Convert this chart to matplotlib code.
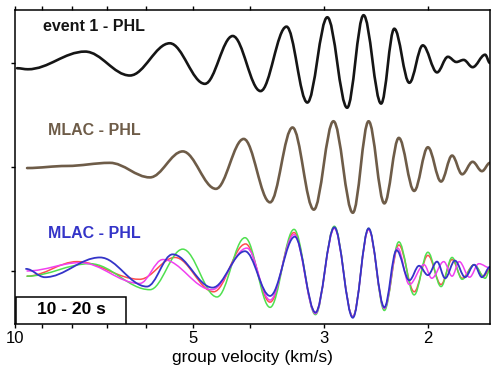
import matplotlib
matplotlib.use('Agg')
import matplotlib.pyplot as plt
from matplotlib.path import Path
from matplotlib.patches import PathPatch, Rectangle
from matplotlib.ticker import NullFormatter

plt.rcParams['font.family'] = ['Liberation Sans', 'DejaVu Sans']

# peaks / troughs: group velocity (km/s), amplitude
event_v = [9.92, 9.51, 7.61, 6.39, 5.47, 4.77, 4.28, 3.84, 3.47, 3.20, 2.96, 2.74,
           2.57, 2.40, 2.28, 2.15, 2.04, 1.93, 1.85, 1.79, 1.74, 1.68, 1.60, 1.57]
event_amp = [-0.05, -0.06, 0.11, -0.12, 0.19, -0.20, 0.26, -0.27, 0.35, -0.38, 0.44, -0.43,
             0.46, -0.39, 0.33, -0.19, 0.17, -0.09, 0.06, 0.01, 0.03, -0.04, 0.08, 0.0]

mlac_v = [9.54, 8.17, 6.91, 5.91, 5.20, 4.57, 4.10, 3.70, 3.39, 3.12, 2.89, 2.68,
          2.52, 2.37, 2.24, 2.11, 2.00, 1.90, 1.82, 1.75, 1.68, 1.62, 1.57]
mlac_amp = [-0.01, 0.01, 0.04, -0.10, 0.15, -0.21, 0.27, -0.34, 0.38, -0.41, 0.44, -0.44,
            0.44, -0.35, 0.28, -0.23, 0.19, -0.14, 0.11, -0.07, 0.05, -0.04, 0.04]

blue_v = [9.58, 8.90, 7.18, 5.98, 5.41, 4.63, 4.08, 3.70, 3.36, 3.10, 2.88, 2.68, 2.52,
          2.37, 2.26, 2.15, 2.07, 2.00, 1.93, 1.87, 1.80, 1.73, 1.67, 1.62, 1.57]
blue_amp = [0.02, -0.06, 0.13, -0.15, 0.16, -0.16, 0.19, -0.24, 0.33, -0.40, 0.42, -0.45, 0.41,
            -0.35, 0.20, -0.09, 0.05, -0.04, 0.09, -0.07, 0.10, -0.06, 0.06, -0.06, 0.04]

green_v = [9.54, 7.47, 5.91, 5.20, 4.55, 4.08, 3.70, 3.37, 3.10, 2.88, 2.68, 2.52,
           2.37, 2.24, 2.11, 2.00, 1.90, 1.82, 1.75, 1.67, 1.60, 1.57]
green_amp = [-0.05, 0.07, -0.18, 0.21, -0.25, 0.32, -0.35, 0.40, -0.42, 0.43, -0.44, 0.41,
             -0.38, 0.28, -0.23, 0.18, -0.15, 0.13, -0.08, 0.06, -0.07, 0.01]

red_v = [9.54, 7.85, 6.15, 5.36, 4.61, 4.07, 3.70, 3.37, 3.10, 2.88, 2.68, 2.52,
         2.37, 2.24, 2.11, 2.00, 1.90, 1.82, 1.75, 1.67, 1.61, 1.57]
red_amp = [-0.05, 0.09, -0.08, 0.13, -0.20, 0.26, -0.30, 0.37, -0.40, 0.42, -0.44, 0.40,
           -0.36, 0.25, -0.20, 0.15, -0.13, 0.11, -0.07, 0.06, -0.05, 0.02]

magenta_v = [9.54, 7.76, 6.15, 5.62, 4.64, 4.05, 3.70, 3.37, 3.10, 2.88, 2.68, 2.52,
             2.37, 2.25, 2.15, 2.03, 1.97, 1.88, 1.82, 1.77, 1.70, 1.64, 1.57]
magenta_amp = [0.00, 0.08, -0.12, 0.11, -0.18, 0.22, -0.28, 0.35, -0.41, 0.41, -0.44, 0.40,
               -0.36, 0.22, -0.13, 0.06, -0.07, 0.09, -0.05, 0.09, -0.06, 0.07, 0.03]

major_ticks = [10, 5, 3, 2]
minor_ticks = [9, 8, 7, 6, 4]


def wave_path(v, amp, offset):
    # smooth curve through the extrema, flat tangent at every peak/trough
    verts = [(v[0], amp[0] + offset)]
    codes = [Path.MOVETO]
    for i in range(1, len(v)):
        x0, x1 = v[i - 1], v[i]
        y0, y1 = amp[i - 1] + offset, amp[i] + offset
        verts += [(x0 * (x1 / x0) ** 0.36, y0), (x1 * (x0 / x1) ** 0.36, y1), (x1, y1)]
        codes += [Path.CURVE4] * 3
    return Path(verts, codes)


fig = plt.figure(figsize=(4.91, 3.77), dpi=100)
ax = fig.add_axes([15 / 491, 53 / 377, 475 / 491, 314 / 377])
ax.set_xscale('log')
ax.set_xlim(10, 1.57)
ax.set_ylim(-0.51, 2.51)

traces = [
    (event_v, event_amp, 2, '#151515', 1.9),
    (mlac_v, mlac_amp, 1, '#6e5c48', 1.9),
    (red_v, red_amp, 0, '#ff4d4d', 1.1),
    (green_v, green_amp, 0, '#4fe04f', 1.1),
    (magenta_v, magenta_amp, 0, '#f040f0', 1.1),
    (blue_v, blue_amp, 0, '#3434c8', 1.3),
]
for v, amp, off, col, lw in traces:
    ax.add_patch(PathPatch(wave_path(v, amp, off), fill=False, edgecolor=col,
                           lw=lw, capstyle='round', joinstyle='round',
                           transform=ax.transData))

ax.set_xticks(major_ticks)
ax.set_xticklabels([str(t) for t in major_ticks])
ax.set_xticks(minor_ticks, minor=True)
ax.xaxis.set_minor_formatter(NullFormatter())
ax.tick_params(axis='x', which='both', top=True, direction='out', length=3,
               width=1, labelsize=12, pad=2)
ax.set_yticks([0, 1, 2])
ax.set_yticklabels([])
ax.tick_params(axis='y', direction='out', length=3, width=1)
for s in ax.spines.values():
    s.set_linewidth(1.1)

ax.set_xlabel('group velocity (km/s)', fontsize=12.5, labelpad=3)

ax.text(0.059, 0.946, 'event 1 - PHL', transform=ax.transAxes, fontsize=11.5,
        fontweight='bold', color='#151515', va='center')
ax.text(0.069, 0.615, 'MLAC - PHL', transform=ax.transAxes, fontsize=11.5,
        fontweight='bold', color='#6e5c48', va='center')
ax.text(0.069, 0.287, 'MLAC - PHL', transform=ax.transAxes, fontsize=11.5,
        fontweight='bold', color='#3434c8', va='center')

ax.add_patch(Rectangle((0.002, 0), 0.232, 0.086, transform=ax.transAxes,
                       facecolor='white', edgecolor='black', lw=1.1, zorder=5))
ax.text(0.119, 0.045, '10 - 20 s', transform=ax.transAxes, fontsize=12.5,
        fontweight='bold', ha='center', va='center', zorder=6)

fig.savefig('out.png', dpi=100)
